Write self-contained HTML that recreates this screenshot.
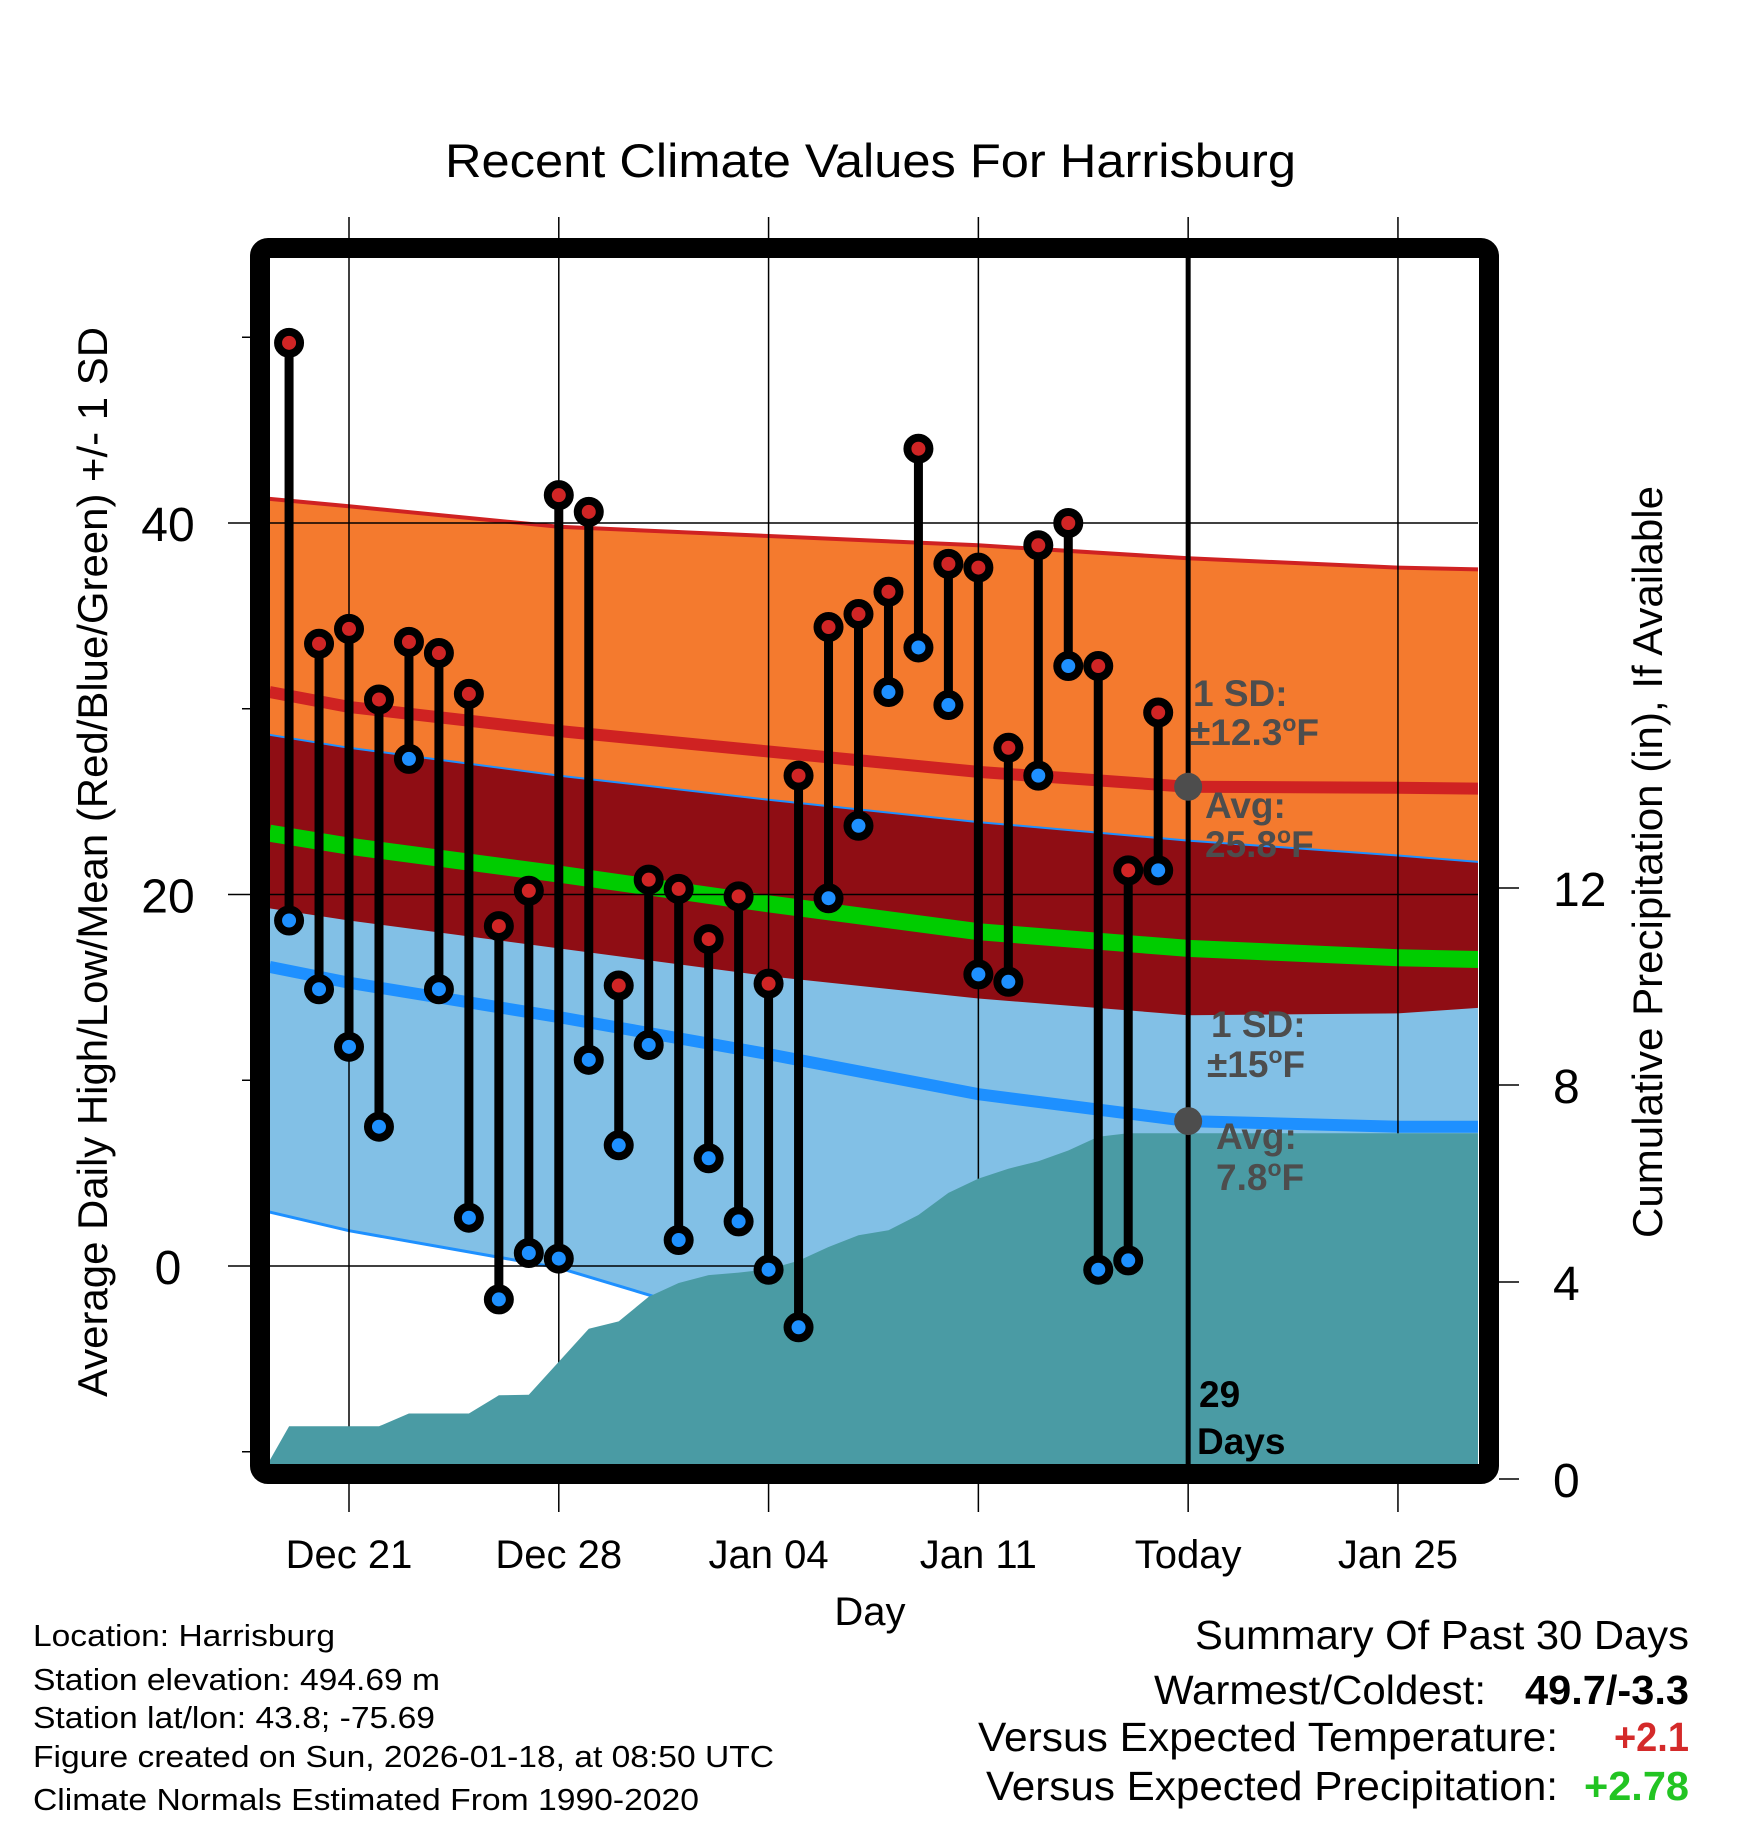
<!DOCTYPE html>
<html><head><meta charset="utf-8"><style>html,body{margin:0;padding:0;background:#fff}svg{display:block}text{font-family:"Liberation Sans",Arial,sans-serif}</style></head>
<body>
<svg id="chart" xmlns="http://www.w3.org/2000/svg" width="1748" height="1828" viewBox="0 0 1748 1828">
<defs><clipPath id="plotclip"><rect x="269" y="257" width="1209" height="1210"/></clipPath></defs>
<rect x="0" y="0" width="1748" height="1828" fill="#fff"/>
<text x="445" y="177" font-size="47" textLength="851" lengthAdjust="spacingAndGlyphs">Recent Climate Values For Harrisburg</text>
<g id="bands" clip-path="url(#plotclip)"></g>
<g id="grid"></g>
<g id="precip" clip-path="url(#plotclip)"></g>
<g id="today"></g>
<g id="marks" clip-path="url(#plotclip)"></g>
<g id="annot"></g>
<rect x="260" y="248" width="1229" height="1226" rx="8" fill="none" stroke="#000" stroke-width="20"/>
<g id="axes"></g>
<text transform="translate(107,862) rotate(-90)" text-anchor="middle" font-size="42" textLength="1070" lengthAdjust="spacingAndGlyphs">Average Daily High/Low/Mean (Red/Blue/Green) +/- 1 SD</text>
<text transform="translate(1662,862) rotate(-90)" text-anchor="middle" font-size="42" textLength="752" lengthAdjust="spacingAndGlyphs">Cumulative Precipitation (in), If Available</text>
<text x="870" y="1625" text-anchor="middle" font-size="40">Day</text>
<g font-size="31">
<text x="33" y="1646" textLength="302" lengthAdjust="spacingAndGlyphs">Location: Harrisburg</text>
<text x="33" y="1690" textLength="407" lengthAdjust="spacingAndGlyphs">Station elevation: 494.69 m</text>
<text x="33" y="1728" textLength="402" lengthAdjust="spacingAndGlyphs">Station lat/lon: 43.8; -75.69</text>
<text x="33" y="1767" textLength="741" lengthAdjust="spacingAndGlyphs">Figure created on Sun, 2026-01-18, at 08:50 UTC</text>
<text x="33" y="1810" textLength="666" lengthAdjust="spacingAndGlyphs">Climate Normals Estimated From 1990-2020</text>
</g>
<g font-size="41">
<text x="1195" y="1649" textLength="494" lengthAdjust="spacingAndGlyphs">Summary Of Past 30 Days</text>
<text x="1154" y="1704" textLength="332" lengthAdjust="spacingAndGlyphs">Warmest/Coldest:</text>
<text x="1525" y="1704" font-weight="bold" textLength="164" lengthAdjust="spacingAndGlyphs">49.7/-3.3</text>
<text x="978" y="1751" textLength="580" lengthAdjust="spacingAndGlyphs">Versus Expected Temperature:</text>
<text x="1614" y="1751" font-weight="bold" fill="#d42a2a" textLength="75" lengthAdjust="spacingAndGlyphs">+2.1</text>
<text x="986" y="1800" textLength="572" lengthAdjust="spacingAndGlyphs">Versus Expected Precipitation:</text>
<text x="1584" y="1800" font-weight="bold" fill="#22c422" textLength="105" lengthAdjust="spacingAndGlyphs">+2.78</text>
</g>
</svg>
<script>
// ---- data ----
const obsDays = [-2,-1,0,1,2,3,4,5,6,7,8,9,10,11,12,13,14,15,16,17,18,19,20,21,22,23,24,25,26,27];
const highs = [49.7,33.5,34.3,30.5,33.6,33.0,30.8,18.3,20.2,41.5,40.6,15.1,20.8,20.3,17.6,19.9,15.2,26.4,34.4,35.1,36.3,44.0,37.8,37.6,27.9,38.8,40.0,32.3,21.3,29.8];
const lows = [18.6,14.9,11.8,7.5,27.3,14.9,2.6,-1.8,0.7,0.4,11.1,6.5,11.9,1.4,5.8,2.4,-0.2,-3.3,19.8,23.7,30.9,33.3,30.2,15.7,15.3,26.4,32.3,-0.2,0.3,21.3];
const precipDays = [-3,-2,-1,0,1,2,3,4,5,6,7,8,9,10,11,12,13,14,15,16,17,18,19,20,21,22,23,24,25,26,27,38];
const precip = [0,1.07,1.07,1.07,1.07,1.33,1.33,1.33,1.7,1.71,2.38,3.05,3.2,3.7,3.98,4.14,4.19,4.26,4.43,4.71,4.95,5.05,5.36,5.81,6.1,6.3,6.45,6.67,6.95,7.02,7.02,7.02];
const normDays = [-2.65,0,7,14,21,28,35,37.7];
const hiUp = [41.3,40.9,39.8,39.3,38.8,38.1,37.6,37.5];
const hiAvg = [30.9,30.1,28.8,27.7,26.6,25.8,25.75,25.7];
const hiDn = [19.25,18.6,17.1,15.6,14.4,13.5,13.6,13.9];
const loUp = [28.6,27.9,26.4,25.1,23.9,22.9,22.1,21.75];
const loAvg = [16.1,15.25,13.4,11.4,9.25,7.8,7.5,7.5];
const loDn = [2.9,1.9,-0.1,-3.5,-5.7,-7.2,-7.6,-7.5];
const meanT = [23.3,22.6,21.1,19.5,18.0,17.1,16.6,16.5];
const xTickDays = [0,7,14,21,28,35];
const xTickLabels = ["Dec 21","Dec 28","Jan 04","Jan 11","Today","Jan 25"];
const yMajor = [0,20,40];
const yMinor = [-10,10,30,50];
const pTicks = [0,4,8,12];
const todayDay = 28;
const todayHiAvg = 25.8, todayLoAvg = 7.8;

// ---- scales ----
const X = d => 349 + 29.97*d;
const Y = v => 1266 - 18.575*v;
const YP = p => 1479 - 49.25*p;
const NS = "http://www.w3.org/2000/svg";
function mk(tag, parent, attrs){const e=document.createElementNS(NS,tag);for(const k in attrs)e.setAttribute(k,attrs[k]);parent.appendChild(e);return e;}
const pts = arr => normDays.map((d,i)=>X(d).toFixed(1)+","+Y(arr[i]).toFixed(1));
function band(top,bot){return pts(top).concat(pts(bot).reverse()).join(" ");}

const gB=document.getElementById('bands');
let e;
e=mk('polygon',gB,{points:band(hiUp,hiDn),fill:'#f47a2e'});


e=mk('polygon',gB,{points:band(loUp,loDn),fill:'#82c0e6'});


e=mk('polygon',gB,{points:band(loUp,hiDn),fill:'#8f0d14'});


e=mk('polyline',gB,{points:pts(hiUp).join(" "),fill:'none',stroke:'#cf2222',"stroke-width":4});


e=mk('polyline',gB,{points:pts(loUp).join(" "),fill:'none',stroke:'#1e90ff',"stroke-width":2});


e=mk('polyline',gB,{points:pts(loDn).join(" "),fill:'none',stroke:'#1e90ff',"stroke-width":3});


e=mk('polyline',gB,{points:pts(hiAvg).join(" "),fill:'none',stroke:'#cf2222',"stroke-width":12});


e=mk('polyline',gB,{points:pts(meanT).join(" "),fill:'none',stroke:'#00cc00',"stroke-width":17});


e=mk('polyline',gB,{points:pts(loAvg).join(" "),fill:'none',stroke:'#1e90ff',"stroke-width":12});



// grid
const gG=document.getElementById('grid');
xTickDays.forEach((d,i)=>{
  e=mk('line',gG,{x1:X(d),x2:X(d),y1:217,y2:1512,stroke:'#000',"stroke-width":1.5});
  
  
});
yMajor.forEach(v=>{
  e=mk('line',gG,{x1:228,x2:1478,y1:Y(v),y2:Y(v),stroke:'#000',"stroke-width":1.5});
  
  
});

// precip
const gP=document.getElementById('precip');
let pp=precipDays.map((d,i)=>X(d).toFixed(1)+","+YP(precip[i]).toFixed(1));
pp.push(X(precipDays[precipDays.length-1]).toFixed(1)+","+YP(0));
pp.push(X(precipDays[0]).toFixed(1)+","+YP(0));
e=mk('polygon',gP,{points:pp.join(" "),fill:'#4a9ba4'});



// today line
const gT=document.getElementById('today');
e=mk('line',gT,{x1:X(todayDay),x2:X(todayDay),y1:250,y2:1470,stroke:'#000',"stroke-width":5});



// observations
const gM=document.getElementById('marks');
obsDays.forEach((d,i)=>{
  const x=X(d);
  e=mk('line',gM,{x1:x,x2:x,y1:Y(highs[i]),y2:Y(lows[i]),stroke:'#000',"stroke-width":9});
  
  
});
obsDays.forEach((d,i)=>{
  const x=X(d);
  e=mk('circle',gM,{cx:x,cy:Y(lows[i]),r:11,fill:'#1e90ff',stroke:'#000',"stroke-width":8});
  
  
  e=mk('circle',gM,{cx:x,cy:Y(highs[i]),r:11,fill:'#d02525',stroke:'#000',"stroke-width":8});
  
  
});

// annotations
const gA=document.getElementById('annot');
const tx=X(todayDay);
e=mk('circle',gA,{cx:tx,cy:Y(todayHiAvg),r:14,fill:'#4d4d4d'});


e=mk('circle',gA,{cx:tx,cy:Y(todayLoAvg),r:14,fill:'#4d4d4d'});


function lbl(x,y,html,name,color){const t=mk('text',gA,{x:x,y:y,"font-size":37,"font-weight":"bold",fill:color||'#4d4d4d'});t.innerHTML=html;
  
  }
lbl(1193,706,'1 SD:','high-sd-label');
lbl(1190,745,'±12.3<tspan dy="-14" font-size="23">o</tspan><tspan dy="14">F</tspan>','high-sd-value');
lbl(1205,818,'Avg:','high-avg-label');
lbl(1205,857,'25.8<tspan dy="-14" font-size="23">o</tspan><tspan dy="14">F</tspan>','high-avg-value');
lbl(1211,1037,'1 SD:','low-sd-label');
lbl(1207,1077,'±15<tspan dy="-14" font-size="23">o</tspan><tspan dy="14">F</tspan>','low-sd-value');
lbl(1216,1149,'Avg:','low-avg-label');
lbl(1216,1190,'7.8<tspan dy="-14" font-size="23">o</tspan><tspan dy="14">F</tspan>','low-avg-value');
lbl(1199,1407,'29','days-count','#000');
lbl(1197,1454,'Days','days-label','#000');

// axes ticks & labels
const gX=document.getElementById('axes');
xTickDays.forEach((d,i)=>{
  e=mk('text',gX,{x:X(d),y:1568,"text-anchor":"middle","font-size":40});
  e.textContent=xTickLabels[i];
  
  
});
yMajor.forEach(v=>{
  e=mk('text',gX,{x:168,y:Y(v)+18,"text-anchor":"middle","font-size":48});
  e.textContent=String(v);
  
  
});
yMinor.forEach(v=>{
  e=mk('line',gX,{x1:242,x2:252,y1:Y(v),y2:Y(v),stroke:'#000',"stroke-width":1.5});
  
  
});
pTicks.forEach(p=>{
  e=mk('line',gX,{x1:1499,x2:1519,y1:YP(p),y2:YP(p),stroke:'#000',"stroke-width":1.5});
  
  
  e=mk('text',gX,{x:1553,y:YP(p)+18,"font-size":48});
  e.textContent=String(p);
  
  
});
</script>
</body></html>
